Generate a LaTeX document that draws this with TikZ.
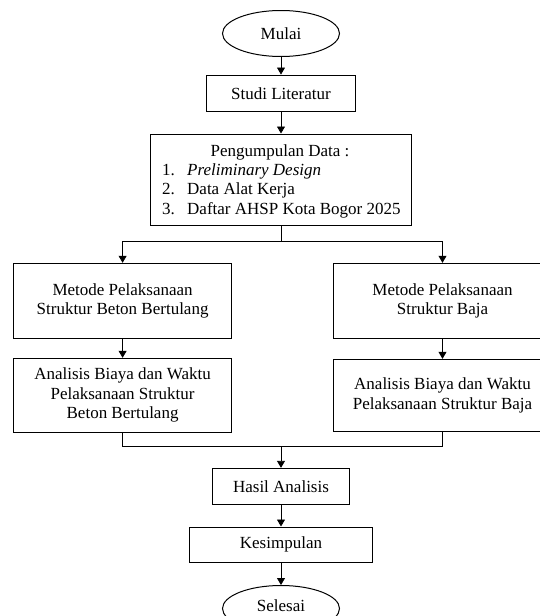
\documentclass[tikz,border=0pt]{standalone}
\usepackage{fontspec}
\setmainfont{Liberation Serif}
\usetikzlibrary{arrows.meta,shapes.geometric}
\newcommand{\dfont}{\fontsize{17}{19.6}\selectfont}
\begin{document}
\begin{tikzpicture}[x=1pt,y=-1pt,
  box/.style={draw, line width=1pt, align=center, inner sep=0pt, font=\dfont},
  term/.style={draw, ellipse, line width=1pt, inner sep=0pt, font=\dfont, minimum width=117pt, minimum height=46pt},
  txt/.style={inner sep=0pt, font=\dfont},
  arr/.style={line width=0.8pt, -{Triangle[width=8pt,length=7pt]}},
  ln/.style={line width=0.8pt}]
\clip (0,0) rectangle (540,616);
\node[term] (mulai) at (281,33.5) {Mulai};
\node[box, minimum width=149.4pt, minimum height=36.5pt] (studi) at (281,93.3) {Studi Literatur};
\node[box, minimum width=261.5pt, minimum height=91pt] (data) at (281,179.5) {};
\node[txt] (dtitle) at (280,152) {Pengumpulan Data :};
\node[txt, anchor=west] (dlist) at (162,191) {\begin{tabular}{@{}p{25pt}@{}l@{}}1. & \textit{Preliminary Design}\\ 2. & Data Alat Kerja\\ 3. & Daftar AHSP Kota Bogor 2025\end{tabular}};
\node[box, minimum width=217.6pt, minimum height=75pt] (lb1) at (122.6,300.8) {Metode Pelaksanaan\\Struktur Beton Bertulang};
\node[box, minimum width=217.6pt, minimum height=75pt] (rb1) at (442.5,300.8) {Metode Pelaksanaan\\Struktur Baja};
\node[box, minimum width=217.6pt, minimum height=74pt] (lb2) at (122.6,395.3) {Analisis Biaya dan Waktu\\Pelaksanaan Struktur\\Beton Bertulang};
\node[box, minimum width=217.6pt, minimum height=72.4pt] (rb2) at (442.5,395.5) {Analisis Biaya dan Waktu\\Pelaksanaan Struktur Baja};
\node[box, minimum width=137.6pt, minimum height=35.7pt] (hasil) at (281,486.2) {Hasil Analisis};
\node[box, minimum width=183.7pt, minimum height=35pt] (kes) at (281,544.5) {Kesimpulan};
\node[term, text height=11.6pt, text depth=6pt] (selesai) at (281,608.5) {Selesai};
\coordinate (split) at (281,241.7);
\coordinate (join) at (281,446.5);
\draw[arr] (mulai.south) -- (studi.north);
\draw[arr] (studi.south) -- (data.north);
\draw[ln] (data.south) -- (split);
\draw[arr] (split) -| (lb1.north);
\draw[arr] (split) -| (rb1.north);
\draw[arr] (lb1.south) -- (lb2.north);
\draw[arr] (rb1.south) -- (rb2.north);
\draw[ln] (lb2.south) -- (lb2.south |- join) -- (rb2.south |- join) -- (rb2.south);
\draw[arr] (join) -- (hasil.north);
\draw[arr] (hasil.south) -- (kes.north);
\draw[arr] (kes.south) -- (selesai.north);
\end{tikzpicture}
\end{document}
